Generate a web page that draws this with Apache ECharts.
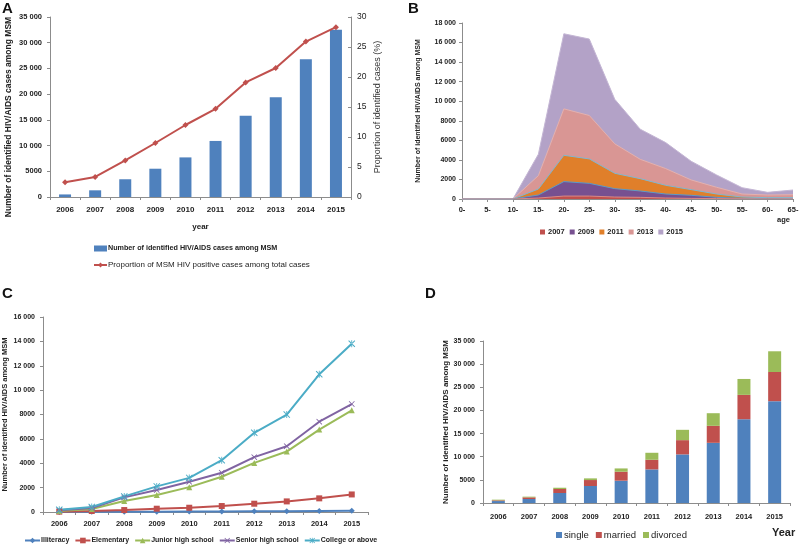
<!DOCTYPE html>
<html>
<head>
<meta charset="utf-8">
<script src="https://cdn.jsdelivr.net/npm/echarts@6/dist/echarts.min.js"></script>
<style>html,body{margin:0;padding:0;background:#fff}#c{width:800px;height:548px}</style>
</head>
<body>
<div id="c"></div>
<script>
// ---------- DATA ----------
var years = ['2006','2007','2008','2009','2010','2011','2012','2013','2014','2015'];
// Panel A
var msmCases = [500, 1300, 3450, 5500, 7700, 10900, 15800, 19400, 26800, 32500];
var msmProportion = [2.45, 3.35, 6.1, 9.0, 12.0, 14.7, 19.1, 21.5, 25.9, 28.3];
// Panel B
var ageGroups = ['0-','5-','10-','15-','20-','25-','30-','35-','40-','45-','50-','55-','60-','65-'];
var age2007 = [0, 0, 0, 100, 300, 300, 200, 170, 100, 60, 40, 20, 10, 10];
var age2009 = [0, 0, 0, 410, 1780, 1600, 1060, 820, 510, 380, 170, 70, 30, 30];
var age2011 = [0, 0, 0, 1020, 4470, 4100, 2630, 2080, 1400, 960, 510, 200, 140, 140];
var age2013 = [0, 0, 0, 2390, 9220, 8540, 5640, 4060, 3110, 1950, 1200, 510, 410, 440];
var age2015 = [0, 0, 0, 4580, 16900, 16360, 10200, 7140, 5770, 3860, 2460, 1160, 680, 920];
// Panel C
var eduIlliteracy = [10, 15, 25, 30, 35, 40, 55, 60, 80, 100];
var eduElementary = [30, 80, 160, 270, 350, 490, 680, 870, 1120, 1440];
var eduJunior = [80, 250, 900, 1390, 2040, 2890, 4030, 4960, 6760, 8340];
var eduSenior = [140, 330, 1200, 1800, 2480, 3220, 4500, 5400, 7410, 8860];
var eduCollege = [190, 410, 1280, 2100, 2800, 4250, 6500, 7990, 11300, 13800];
// Panel D
var marSingle = [420, 860, 2160, 3670, 4820, 7260, 10500, 13000, 18100, 22000];
var marMarried = [150, 360, 860, 1290, 1940, 2080, 3080, 3670, 5260, 6300];
var marDivorced = [150, 150, 280, 360, 710, 1510, 2230, 2730, 3440, 4480];

// ---------- STYLE ----------
var SANS = '"Liberation Sans", Arial, sans-serif';
var AX = '#8c8c8c';
function fmt(v){ return v >= 10000 ? String(v).replace(/\B(?=(\d{3})+(?!\d))/g, ' ') : String(v); }
function catX(grid, data, labelSize, margin){
  return {type:'category', gridIndex:grid, data:data, boundaryGap:true,
    axisLine:{lineStyle:{color:AX}}, axisTick:{show:true, length:3, lineStyle:{color:AX}},
    axisLabel:{color:'#222', fontFamily:SANS, fontWeight:'bold', fontSize:labelSize, margin:margin}};
}
function valY(grid, max, interval, labelSize, margin, name, nameSize, nameGap, namePad){
  return {type:'value', gridIndex:grid, min:0, max:max, interval:interval,
    axisLine:{show:true, lineStyle:{color:AX}}, axisTick:{show:true, length:3, lineStyle:{color:AX}},
    splitLine:{show:false},
    axisLabel:{color:'#222', fontFamily:SANS, fontWeight:'bold', fontSize:labelSize, margin:margin, formatter:fmt},
    name:name, nameLocation:'middle', nameRotate:90, nameGap:nameGap,
    nameTextStyle:{color:'#222', fontFamily:SANS, fontWeight:'bold', fontSize:nameSize, padding:namePad||0}};
}
var xSym = 'path://M0,1 L1,0 L5,4 L9,0 L10,1 L6,5 L10,9 L9,10 L5,6 L1,10 L0,9 L4,5 Z';
var starSym = 'path://M0,1 L1,0 L5,4 L9,0 L10,1 L6,5 L10,9 L9,10 L5,6 L1,10 L0,9 L4,5 Z M4.4,0 L4.4,10 L5.6,10 L5.6,0 Z';

var chart = echarts.init(document.getElementById('c'), null, {renderer:'canvas'});
var option = {
  animation:false,
  backgroundColor:'#fff',
  title:[
    {text:'A', left:2, top:1, padding:0, textStyle:{fontFamily:SANS, fontWeight:'bold', fontSize:15, color:'#111'}},
    {text:'B', left:408, top:1, padding:0, textStyle:{fontFamily:SANS, fontWeight:'bold', fontSize:15, color:'#111'}},
    {text:'C', left:2, top:286, padding:0, textStyle:{fontFamily:SANS, fontWeight:'bold', fontSize:15, color:'#111'}},
    {text:'D', left:425, top:286, padding:0, textStyle:{fontFamily:SANS, fontWeight:'bold', fontSize:15, color:'#111'}}
  ],
  grid:[
    {left:50, right:449, top:17, bottom:351, outerBoundsMode:'none', containLabel:false},
    {left:462, right:7, top:23, bottom:349, outerBoundsMode:'none', containLabel:false},
    {left:43, right:432, top:317, bottom:36, outerBoundsMode:'none', containLabel:false},
    {left:483, right:10, top:341, bottom:45, outerBoundsMode:'none', containLabel:false}
  ],
  xAxis:[
    Object.assign(catX(0, years, 8, 9), {name:'year', nameLocation:'middle', nameGap:26,
      nameTextStyle:{color:'#222', fontFamily:SANS, fontWeight:'bold', fontSize:8}}),
    {type:'category', gridIndex:1, data:ageGroups, boundaryGap:false,
      axisLine:{lineStyle:{color:AX}}, axisTick:{show:true, length:3, lineStyle:{color:AX}},
      axisLabel:{color:'#222', fontFamily:SANS, fontWeight:'bold', fontSize:7.5, margin:7}},
    catX(2, years, 7.5, 8),
    catX(3, years, 7.5, 10)
  ],
  yAxis:[
    valY(0, 35000, 5000, 7.5, 8, 'Number of identified HIV/AIDS cases among MSM', 8.5, 37, [0, 20, 0, 0]),
    {type:'value', gridIndex:0, min:0, max:30, interval:5, position:'right',
      axisLine:{show:true, lineStyle:{color:AX}}, axisTick:{show:true, length:3, inside:true, lineStyle:{color:AX}},
      splitLine:{show:false},
      axisLabel:{color:'#222', fontFamily:SANS, fontSize:8.5, margin:6},
      name:'Proportion of identified cases (%)', nameLocation:'middle', nameRotate:90, nameGap:22,
      nameTextStyle:{color:'#333', fontFamily:SANS, fontSize:9}},
    valY(1, 18000, 2000, 7, 6, 'Number of identified HIV/AIDS among MSM', 7, 40),
    valY(2, 16000, 2000, 7, 8, 'Number of identified HIV/AIDS among MSM', 7.5, 34),
    valY(3, 35000, 5000, 7, 8, 'Number of identified HIV/AIDS among MSM', 8, 33)
  ],
  legend:[
    {orient:'vertical', left:93, top:245, itemGap:9, itemWidth:13, itemHeight:6, padding:0,
      data:[{name:'Number of identified HIV/AIDS cases among MSM', icon:'rect',
             textStyle:{fontFamily:SANS, fontWeight:'bold', fontSize:7.2}},
            {name:'Proportion of MSM HIV positive cases among total cases',
             textStyle:{fontFamily:SANS, fontSize:8}}],
      textStyle:{color:'#222', padding:[0,0,0,-4]}},
    {left:540, top:228, itemGap:5, itemWidth:5, itemHeight:5, padding:0, icon:'rect',
      data:['2007','2009','2011','2013','2015'],
      textStyle:{color:'#222', fontFamily:SANS, fontWeight:'bold', fontSize:7.5, padding:[0,0,0,-2]}},
    {left:24, top:537, itemGap:5, itemWidth:15, itemHeight:7, padding:0,
      data:['Illiteracy','Elementary','Junior high school','Senior high school','College or above'],
      textStyle:{color:'#222', fontFamily:SANS, fontWeight:'bold', fontSize:7, padding:[0,0,0,-4]}},
    {left:556, top:530, itemGap:7, itemWidth:6, itemHeight:6, padding:0, icon:'rect',
      data:['single','married','divorced'],
      textStyle:{color:'#222', fontFamily:SANS, fontSize:9.5, padding:[0,0,0,-3]}}
  ],
  graphic:[
    {type:'text', left:777, top:216, style:{text:'age', fontFamily:SANS, fontWeight:'bold', fontSize:7.5, fill:'#222'}},
    {type:'text', left:772, top:527, style:{text:'Year', fontFamily:SANS, fontWeight:'bold', fontSize:11, fill:'#222'}}
  ],
  series:[
    {name:'Number of identified HIV/AIDS cases among MSM', type:'bar', xAxisIndex:0, yAxisIndex:0,
      data:msmCases, barWidth:12, itemStyle:{color:'#4f81bd'}},
    {name:'Proportion of MSM HIV positive cases among total cases', type:'line', xAxisIndex:0, yAxisIndex:1,
      data:msmProportion, symbol:'diamond', symbolSize:6, color:'#c0504d',
      lineStyle:{color:'#c0504d', width:2}, itemStyle:{color:'#c0504d'}},
    // Panel B (back to front)
    {name:'2015', type:'line', xAxisIndex:1, yAxisIndex:2, data:age2015, symbol:'none', color:'#b3a2c7',
      lineStyle:{color:'#c4b6d4', width:1}, areaStyle:{color:'#b3a2c7', opacity:1}},
    {name:'2013', type:'line', xAxisIndex:1, yAxisIndex:2, data:age2013, symbol:'none', color:'#d99694',
      lineStyle:{color:'#e3b1af', width:1}, areaStyle:{color:'#d99694', opacity:1}},
    {name:'2011', type:'line', xAxisIndex:1, yAxisIndex:2, data:age2011, symbol:'none', color:'#e07f2a',
      lineStyle:{color:'#7fb8d0', width:1}, areaStyle:{color:'#e07f2a', opacity:1}},
    {name:'2009', type:'line', xAxisIndex:1, yAxisIndex:2, data:age2009, symbol:'none', color:'#775090',
      lineStyle:{color:'#5b9bc8', width:1}, areaStyle:{color:'#775090', opacity:1}},
    {name:'2007', type:'line', xAxisIndex:1, yAxisIndex:2, data:age2007, symbol:'none', color:'#c0504d',
      lineStyle:{color:'#d88a88', width:1}, areaStyle:{color:'#c0504d', opacity:1}},
    // Panel C
    {name:'Illiteracy', type:'line', xAxisIndex:2, yAxisIndex:3, data:eduIlliteracy, symbol:'diamond', symbolSize:6,
      color:'#4f81bd', lineStyle:{width:2}},
    {name:'Elementary', type:'line', xAxisIndex:2, yAxisIndex:3, data:eduElementary, symbol:'rect', symbolSize:6,
      color:'#c0504d', lineStyle:{width:2}},
    {name:'Junior high school', type:'line', xAxisIndex:2, yAxisIndex:3, data:eduJunior, symbol:'triangle', symbolSize:6,
      color:'#9bbb59', lineStyle:{width:2}},
    {name:'Senior high school', type:'line', xAxisIndex:2, yAxisIndex:3, data:eduSenior, symbol:xSym, symbolSize:6,
      color:'#8064a2', lineStyle:{width:2}},
    {name:'College or above', type:'line', xAxisIndex:2, yAxisIndex:3, data:eduCollege, symbol:starSym, symbolSize:7,
      color:'#4bacc6', lineStyle:{width:2}},
    // Panel D
    {name:'single', type:'bar', stack:'m', xAxisIndex:3, yAxisIndex:4, data:marSingle, barWidth:13, itemStyle:{color:'#4f81bd'}},
    {name:'married', type:'bar', stack:'m', xAxisIndex:3, yAxisIndex:4, data:marMarried, barWidth:13, itemStyle:{color:'#c0504d'}},
    {name:'divorced', type:'bar', stack:'m', xAxisIndex:3, yAxisIndex:4, data:marDivorced, barWidth:13, itemStyle:{color:'#9bbb59'}}
  ]
};
chart.setOption(option);
</script>
</body>
</html>
